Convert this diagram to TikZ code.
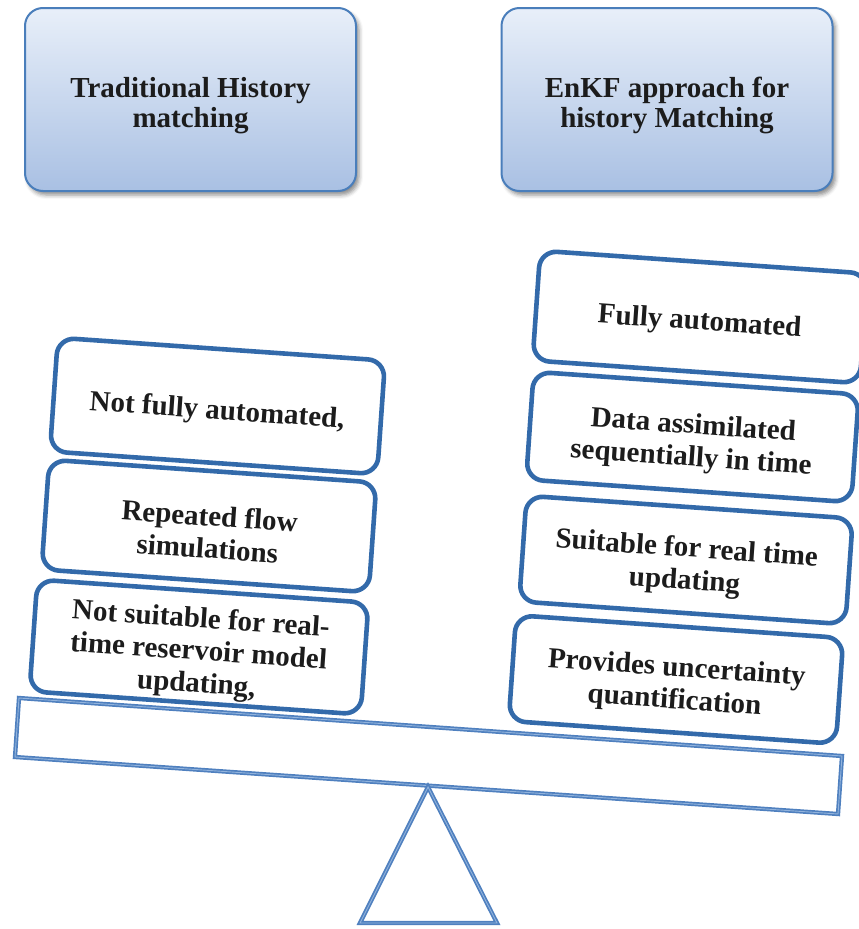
\documentclass[tikz,border=0pt]{standalone}
\usepackage{fontspec}
\setmainfont{Liberation Serif}
\usetikzlibrary{shadows.blur}

\definecolor{headtop}{HTML}{E8EFF9}
\definecolor{headbottom}{HTML}{A9C0E3}
\definecolor{headline}{HTML}{4A7EBB}
\definecolor{itemline}{HTML}{336AAA}
\definecolor{beamblue}{HTML}{4F80BF}
\definecolor{beamlight}{HTML}{92B3DC}
\definecolor{textdark}{HTML}{1C1C1C}

\begin{document}
\begin{tikzpicture}[x=1pt,y=-1pt,
  headfont/.style={font=\bfseries\fontsize{29}{30}\selectfont, text=textdark, align=center, inner sep=0pt},
  itemfont/.style={font=\bfseries\fontsize{29}{32.5}\selectfont, text=textdark, align=center, inner sep=0pt},
  headbox/.style={rounded corners=18pt, draw=headline, line width=2pt,
    top color=headtop, bottom color=headbottom,
    minimum width=331pt, minimum height=183pt, inner sep=0pt,
    blur shadow={shadow xshift=3pt, shadow yshift=-4pt, shadow blur radius=4pt, shadow opacity=45}},
  headtext/.style={headfont, yshift=-6pt},
  itembox/.style={rounded corners=17pt, draw=itemline, line width=4.6pt, fill=white,
    minimum width=328pt, minimum height=110pt, inner sep=0pt, rotate=-4},
  itemtext/.style={itemfont, rotate=-4, yshift=-6pt},
  beamline/.style={draw=beamblue, double=beamlight, double distance=0.9pt, line width=1.7pt, line join=miter}]

\useasboundingbox (0,0) rectangle (859,929);

% headings
\node[headbox] (trad) at (190.5,99.5) {};
\node[headtext] (tradtxt) at (trad.center) {Traditional History\\matching};
\node[headbox] (enkf) at (667,99.5) {};
\node[headtext] (enkftxt) at (enkf.center) {EnKF approach for\\history Matching};

% traditional pan
\node[itembox, minimum height=114pt] (l1) at (217.5,406) {};
\node[itemtext] (l1txt) at (l1.center) {Not fully automated,};
\node[itembox] (l2) at (209,526) {};
\node[itemtext] (l2txt) at (l2.center) {Repeated flow\\simulations};
\node[itembox, minimum height=112pt, minimum width=332pt] (l3) at (199,647) {};
\node[itemtext] (l3txt) at (l3.center) {Not suitable for real-\\time reservoir model\\updating,};

% EnKF pan
\node[itembox] (r1) at (700,317) {};
\node[itemtext] (r1txt) at (r1.center) {Fully automated};
\node[itembox, minimum width=326pt, minimum height=108pt] (r2) at (692.5,437) {};
\node[itemtext] (r2txt) at (r2.center) {Data assimilated\\sequentially in time};
\node[itembox, minimum width=327pt, minimum height=106pt] (r3) at (686,560) {};
\node[itemtext] (r3txt) at (r3.center) {Suitable for real time\\updating};
\node[itembox, minimum width=328pt, minimum height=106pt] (r4) at (676,679.5) {};
\node[itemtext] (r4txt) at (r4.center) {Provides uncertainty\\quantification};

% balance beam
\coordinate (btl) at (19,698);
\coordinate (btr) at (842,756);
\coordinate (bbr) at (838,814);
\coordinate (bbl) at (15,757);
\draw[beamline] (btl) -- (btr) -- (bbr) -- (bbl) -- cycle;

% fulcrum
\coordinate (apex) at (428,787);
\coordinate (fl) at (360,923);
\coordinate (fr) at (497,923);
\draw[beamline] (apex) -- (fr) -- (fl) -- cycle;
\end{tikzpicture}
\end{document}
